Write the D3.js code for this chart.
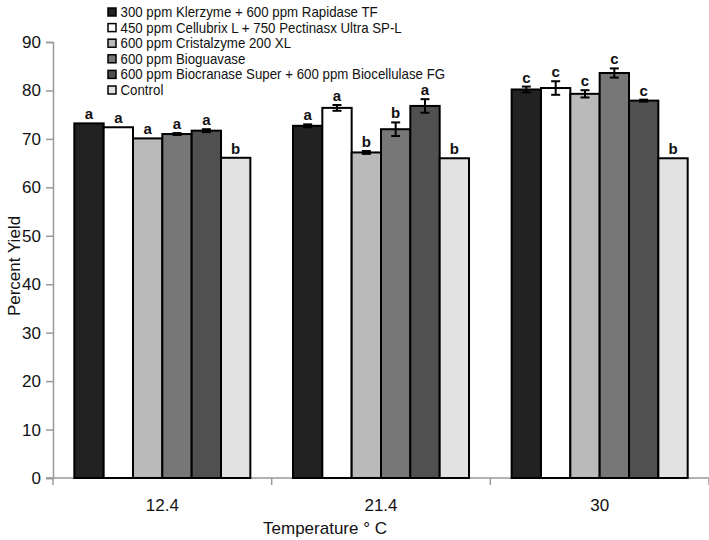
<!DOCTYPE html>
<html>
<head>
<meta charset="utf-8">
<script src="https://cdn.jsdelivr.net/npm/d3@7"></script>
<style>
	body { margin: 0; background: #fff; }
	text { font-family: "Liberation Sans", Arial, sans-serif; fill: #111; }
</style>
</head>
<body>
<svg width="709" height="540"></svg>
<script>
	var temps = ['12.4', '21.4', '30'];
	var treatments = [
		'300 ppm Klerzyme + 600 ppm Rapidase TF',
		'450 ppm Cellubrix L + 750 Pectinasx Ultra SP-L',
		'600 ppm Cristalzyme 200 XL',
		'600 ppm Bioguavase',
		'600 ppm Biocranase Super + 600 ppm Biocellulase FG',
		'Control'
	];
	var colors = ['#222222', '#ffffff', '#bababa', '#777777', '#505050', '#e2e2e2'];

	// values per treatment, one number per temperature
	var values = [
		[73.2, 72.7, 80.2],
		[72.4, 76.4, 80.5],
		[70.1, 67.2, 79.3],
		[71.0, 72.0, 83.6],
		[71.7, 76.8, 77.9],
		[66.1, 66.0, 66.0]
	];
	var errors = [
		[0, 0.3, 0.6],
		[0, 0.6, 1.4],
		[0, 0.3, 0.75],
		[0.2, 1.4, 0.95],
		[0.3, 1.4, 0.2],
		[0, 0, 0]
	];
	var letters = [
		['a', 'a', 'c'],
		['a', 'a', 'c'],
		['a', 'b', 'c'],
		['a', 'b', 'c'],
		['a', 'a', 'c'],
		['b', 'b', 'b']
	];
	var yTicks = [0, 10, 20, 30, 40, 50, 60, 70, 80, 90];

	var svg = d3.select('svg');
	var plotLeft = 53, plotRight = 709, plotTop = 42, plotBottom = 478;

	var x = d3.scaleBand().domain(temps).range([plotLeft, plotRight])
		.paddingInner(0.195).paddingOuter(0.0975);
	var xs = d3.scaleBand().domain(d3.range(treatments.length)).range([0, x.bandwidth()]);
	var y = d3.scaleLinear().domain([0, 90]).range([plotBottom, plotTop]);

	// y axis
	var yAxis = svg.append('g').attr('transform', 'translate(' + plotLeft + ',0)')
		.call(d3.axisLeft(y).tickValues(yTicks).tickSize(7).tickPadding(5));
	yAxis.selectAll('line, path').attr('stroke', '#999').attr('stroke-width', 1.5);
	yAxis.selectAll('text').style('font-size', '17px').attr('fill', '#111');

	// x axis (ticks between groups)
	var step = x.step();
	var bounds = d3.range(temps.length + 1).map(function(i) { return plotLeft + i * step; });
	svg.append('line').attr('x1', plotLeft - 7).attr('x2', plotRight).attr('y1', plotBottom).attr('y2', plotBottom)
		.attr('stroke', '#999').attr('stroke-width', 1.5);
	svg.selectAll('.xtick').data(bounds).enter().append('line')
		.attr('x1', function(d) { return d; }).attr('x2', function(d) { return d; })
		.attr('y1', plotBottom).attr('y2', plotBottom + 7)
		.attr('stroke', '#999').attr('stroke-width', 1.5);
	svg.selectAll('.xlab').data(temps).enter().append('text')
		.attr('x', function(d) { return x(d) + x.bandwidth() / 2; })
		.attr('y', 511)
		.attr('text-anchor', 'middle')
		.style('font-size', '17px')
		.text(function(d) { return d; });

	// axis titles
	svg.append('text').attr('x', 325).attr('y', 534).attr('text-anchor', 'middle')
		.style('font-size', '17px').text('Temperature ° C');
	svg.append('text').attr('transform', 'translate(20,266) rotate(-90)').attr('text-anchor', 'middle')
		.style('font-size', '17px').text('Percent Yield');

	// bars
	var cells = [];
	temps.forEach(function(t, ti) {
		treatments.forEach(function(s, si) {
			cells.push({ t: t, si: si, v: values[si][ti], e: errors[si][ti], l: letters[si][ti] });
		});
	});

	var g = svg.append('g');
	g.selectAll('rect').data(cells).enter().append('rect')
		.attr('x', function(d) { return x(d.t) + xs(d.si); })
		.attr('y', function(d) { return y(d.v); })
		.attr('width', xs.bandwidth())
		.attr('height', function(d) { return y(0) - y(d.v); })
		.attr('fill', function(d) { return colors[d.si]; })
		.attr('stroke', '#000').attr('stroke-width', 2);

	// error bars
	var eb = g.selectAll('.err').data(cells.filter(function(d) { return d.e > 0; })).enter().append('g');
	eb.each(function(d) {
		var cx = x(d.t) + xs(d.si) + xs.bandwidth() / 2;
		var sel = d3.select(this);
		sel.append('line').attr('x1', cx).attr('x2', cx)
			.attr('y1', y(d.v - d.e)).attr('y2', y(d.v + d.e));
		[d.v - d.e, d.v + d.e].forEach(function(v) {
			sel.append('line').attr('x1', cx - 4.5).attr('x2', cx + 4.5)
				.attr('y1', y(v)).attr('y2', y(v));
		});
	});
	eb.selectAll('line').attr('stroke', '#000').attr('stroke-width', 2);

	// letters
	g.selectAll('.let').data(cells).enter().append('text')
		.attr('x', function(d) { return x(d.t) + xs(d.si) + xs.bandwidth() / 2; })
		.attr('y', function(d) { return y(d.v + d.e) - 4; })
		.attr('text-anchor', 'middle')
		.style('font-size', '15px').style('font-weight', 'bold')
		.text(function(d) { return d.l; });

	// legend (slightly condensed text, like the original)
	var leg = svg.append('g').selectAll('g').data(treatments).enter().append('g')
		.attr('transform', function(d, i) { return 'translate(108,' + (8 + i * 15.6) + ')'; });
	leg.append('rect').attr('width', 8).attr('height', 8).attr('y', 0)
		.attr('fill', function(d, i) { return colors[i]; })
		.attr('stroke', '#000').attr('stroke-width', 1.5);
	leg.append('text').attr('transform', 'translate(12.5,9) scale(0.95,1)')
		.style('font-size', '14px').text(function(d) { return d; });
</script>
</body>
</html>
